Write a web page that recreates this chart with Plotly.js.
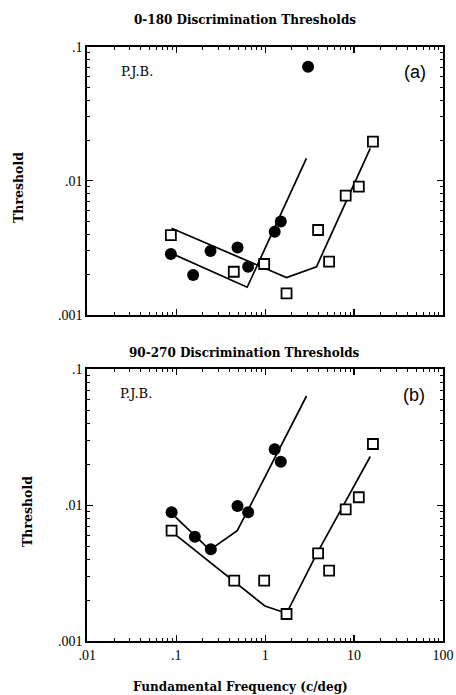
<!DOCTYPE html>
<html>
<head>
<meta charset="utf-8">
<script src="https://cdn.plot.ly/plotly-3.0.1.min.js"></script>
<style>
  html, body { margin: 0; padding: 0; background: #fff; }
  #chart { width: 456px; height: 695px; }
</style>
</head>
<body>
<div id="chart"></div>
<script>
// Panel (a): 0-180 discrimination thresholds
const freqA_dots = [0.087, 0.155, 0.243, 0.489, 0.644, 1.28, 1.50, 3.04];
const thrA_dots  = [0.00285, 0.00199, 0.0030, 0.00319, 0.00229, 0.00418, 0.00497, 0.0710];
const freqA_sq   = [0.087, 0.444, 0.975, 1.74, 3.94, 5.24, 8.05, 11.3, 16.3];
const thrA_sq    = [0.00394, 0.0021, 0.0024, 0.00145, 0.0043, 0.0025, 0.00775, 0.00906, 0.0196];
// fitted curves, panel (a)
const freqA_fitDots = [0.0887, 0.628, 2.91];
const thrA_fitDots  = [0.00288, 0.00161, 0.0147];
const freqA_fitSq   = [0.0887, 1.74, 3.78, 15.2];
const thrA_fitSq    = [0.00443, 0.0019, 0.00229, 0.01746];

// Panel (b): 90-270 discrimination thresholds
const freqB_dots = [0.0887, 0.162, 0.245, 0.489, 0.644, 1.28, 1.50];
const thrB_dots  = [0.00885, 0.00586, 0.00473, 0.00987, 0.00885, 0.0258, 0.0209];
const freqB_sq   = [0.0887, 0.449, 0.975, 1.74, 3.94, 5.24, 8.05, 11.3, 16.3];
const thrB_sq    = [0.00649, 0.00278, 0.00278, 0.00158, 0.00442, 0.0033, 0.0093, 0.01143, 0.0282];
// fitted curves, panel (b)
const freqB_fitDots = [0.0887, 0.239, 0.485, 0.628, 2.92];
const thrB_fitDots  = [0.00871, 0.00468, 0.00649, 0.00895, 0.0636];
const freqB_fitSq   = [0.0887, 0.993, 1.74, 3.84, 15.2];
const thrB_fitSq    = [0.00638, 0.00181, 0.0016, 0.00443, 0.0228];

// axis ticks
const xTickVals = [0.01, 0.1, 1, 10, 100];
const xTickText = ['.01', '.1', '1', '10', '100'];
const yTickVals = [0.001, 0.01, 0.1];
const yTickText = ['.001', '.01', '.1'];

function minorTicks(lo, hi) {
  const out = [];
  for (let d = lo; d < hi; d++) {
    for (let k = 2; k <= 9; k++) out.push(k * Math.pow(10, d));
  }
  return out;
}

const lineStyle = { color: '#000', width: 1.7 };
const dotMarker = { symbol: 'circle', size: 12, color: '#000' };
const sqMarker  = { symbol: 'square', size: 10, color: '#fff', line: { color: '#000', width: 1.8 } };

function panel(xa, ya, fd, td, fs, ts, fx1, fy1, fx2, fy2) {
  return [
    { x: fx1, y: fy1, xaxis: xa, yaxis: ya, mode: 'lines', line: lineStyle, hoverinfo: 'skip' },
    { x: fx2, y: fy2, xaxis: xa, yaxis: ya, mode: 'lines', line: lineStyle, hoverinfo: 'skip' },
    { x: fd, y: td, xaxis: xa, yaxis: ya, mode: 'markers', marker: dotMarker },
    { x: fs, y: ts, xaxis: xa, yaxis: ya, mode: 'markers', marker: sqMarker }
  ];
}

const data = [].concat(
  panel('x', 'y', freqA_dots, thrA_dots, freqA_sq, thrA_sq,
        freqA_fitDots, thrA_fitDots, freqA_fitSq, thrA_fitSq),
  panel('x2', 'y2', freqB_dots, thrB_dots, freqB_sq, thrB_sq,
        freqB_fitDots, thrB_fitDots, freqB_fitSq, thrB_fitSq)
);

const W = 456, H = 695;
const xDom = [87.3 / W, 443 / W];
const domA = [1 - 315 / H, 1 - 46.7 / H];
const domB = [1 - 641 / H, 1 - 369.3 / H];

const tickFont = { family: 'Liberation Serif, Times New Roman, serif', size: 14, color: '#000' };

function xAxis(anchor, showLabels) {
  return {
    type: 'log', range: [-2, 2], domain: xDom, anchor: anchor,
    tickmode: 'array', tickvals: xTickVals, ticktext: xTickText,
    showticklabels: showLabels, tickfont: tickFont,
    ticks: 'inside', ticklen: 6, tickwidth: 1.2, tickcolor: '#000',
    minor: { tickmode: 'array', tickvals: minorTicks(-2, 2), ticks: 'inside', ticklen: 3, tickwidth: 1, tickcolor: '#000', showgrid: false },
    showline: true, linecolor: '#000', linewidth: 2, mirror: 'ticks',
    showgrid: false, zeroline: false, fixedrange: true
  };
}
function yAxis(anchor, dom) {
  return {
    type: 'log', range: [-3, -1], domain: dom, anchor: anchor,
    tickmode: 'array', tickvals: yTickVals, ticktext: yTickText,
    tickfont: tickFont,
    ticks: 'inside', ticklen: 6, tickwidth: 1.2, tickcolor: '#000',
    minor: { tickmode: 'array', tickvals: minorTicks(-3, -1), ticks: 'inside', ticklen: 3, tickwidth: 1, tickcolor: '#000', showgrid: false },
    showline: true, linecolor: '#000', linewidth: 2, mirror: 'ticks',
    showgrid: false, zeroline: false, fixedrange: true
  };
}

const titleFont = { family: 'DejaVu Serif, serif', size: 12, color: '#000', weight: 'bold' };
const axisTitleFont = { family: 'DejaVu Serif, serif', size: 12.5, color: '#000', weight: 'bold' };
const labelFont = { family: 'DejaVu Serif, serif', size: 13, color: '#000' };
const tagFont = { family: 'Liberation Sans, Arial, sans-serif', size: 18, color: '#000' };

function px(x) { return x / W; }
function py(y) { return 1 - y / H; }
function note(text, x, y, font, extra) {
  return Object.assign({ text: text, x: px(x), y: py(y), xref: 'paper', yref: 'paper',
    showarrow: false, font: font, xanchor: 'center', yanchor: 'middle' }, extra || {});
}

const layout = {
  width: W, height: H,
  margin: { l: 0, r: 0, t: 0, b: 0 },
  paper_bgcolor: '#fff', plot_bgcolor: '#fff',
  showlegend: false,
  xaxis: xAxis('y', false),
  yaxis: yAxis('x', domA),
  xaxis2: xAxis('y2', true),
  yaxis2: yAxis('x2', domB),
  annotations: [
    note('0-180 Discrimination Thresholds', 245, 20, titleFont),
    note('90-270 Discrimination Thresholds', 245, 353, titleFont),
    note('Threshold', 18, 188, axisTitleFont, { textangle: -90 }),
    note('Threshold', 27, 512, axisTitleFont, { textangle: -90 }),
    note('Fundamental Frequency (c/deg)', 240, 687, titleFont),
    note('P.J.B.', 137, 72, labelFont),
    note('P.J.B.', 136, 393, labelFont),
    note('(a)', 415, 72, tagFont),
    note('(b)', 414, 395, tagFont)
  ]
};

Plotly.newPlot('chart', data, layout, { staticPlot: true, displayModeBar: false });
</script>
</body>
</html>
